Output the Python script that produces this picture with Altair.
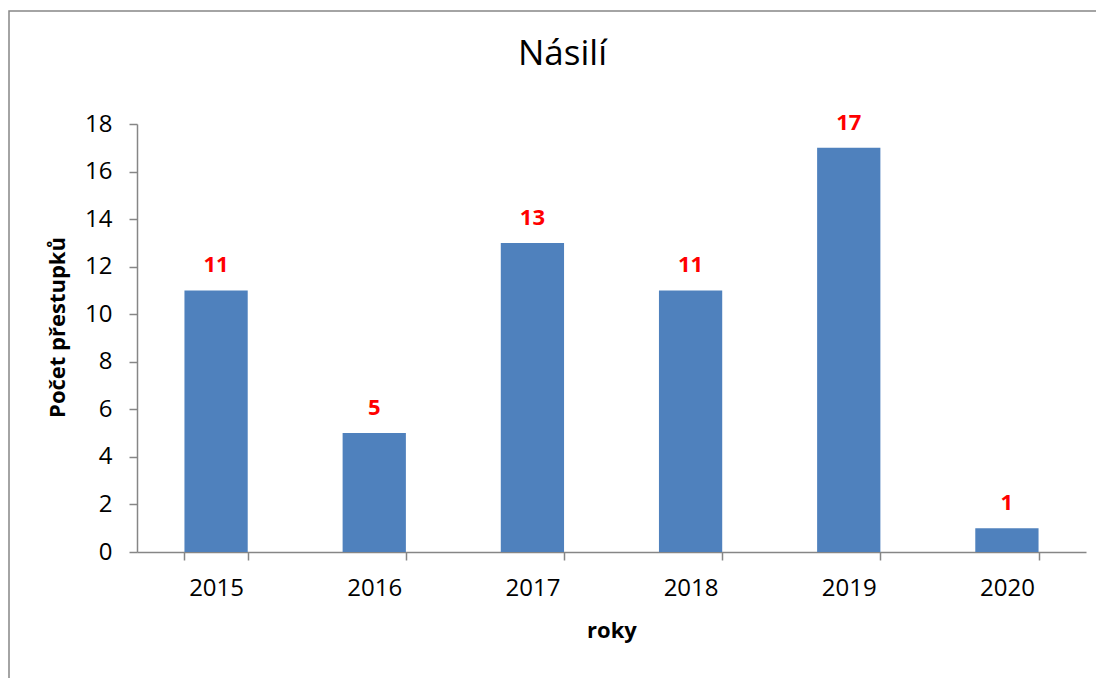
import altair as alt
import pandas as pd

years = ["2015", "2016", "2017", "2018", "2019", "2020"]
counts = [11, 5, 13, 11, 17, 1]

df = pd.DataFrame({"rok": years, "pocet": counts})

FONT = "Open Sans"
GRAY = "#868686"

x_enc = alt.X(
    "rok:N",
    sort=years,
    scale=alt.Scale(paddingInner=0.6, paddingOuter=0.3),
    axis=alt.Axis(
        title="roky",
        labelAngle=0,
        labelFontSize=24,
        labelFont=FONT,
        labelColor="black",
        labelPadding=16,
        tickBand="extent",
        tickSize=8,
        tickColor=GRAY,
        domainColor=GRAY,
        domainWidth=1.5,
        tickWidth=1.5,
        titleFont=FONT,
        titleFontSize=22,
        titleFontWeight="bold",
        titleColor="black",
        titleBaseline="alphabetic",
        titleY=85,
    ),
)
y_enc = alt.Y(
    "pocet:Q",
    scale=alt.Scale(domain=[0, 18], nice=False),
    axis=alt.Axis(
        title="Počet přestupků",
        values=list(range(0, 19, 2)),
        grid=False,
        labelFontSize=24,
        labelFont=FONT,
        labelColor="black",
        labelPadding=17,
        tickSize=8,
        tickColor=GRAY,
        domainColor=GRAY,
        domainWidth=1.5,
        tickWidth=1.5,
        titleFont=FONT,
        titleFontSize=22,
        titleFontWeight="bold",
        titleColor="black",
        titleAngle=-90,
        titleBaseline="middle",
        titleX=-80,
        titleY=203,
    ),
)

bars = alt.Chart(df).mark_bar(color="#4F81BD").encode(x=x_enc, y=y_enc)

labels = alt.Chart(df).mark_text(
    color="#FF0000",
    fontWeight="bold",
    fontSize=22,
    font=FONT,
    baseline="alphabetic",
    dy=-18,
).encode(x=alt.X("rok:N", sort=years), y="pocet:Q", text="pocet:Q")

border = alt.Chart(alt.Data(values=[{"a": 1}])).mark_rect(
    fill=None, stroke=GRAY, strokeWidth=1.5
).encode(
    x=alt.value(-128), x2=alt.value(963), y=alt.value(-113), y2=alt.value(566)
)

chart = (
    alt.layer(border, bars, labels)
    .properties(
        width=949,
        height=428,
        autosize=alt.AutoSizeParams(type="none"),
        padding={"left": 129, "top": 116, "right": 10, "bottom": 126},
        title=alt.TitleParams(
            "Násilí",
            font=FONT,
            fontSize=35,
            fontWeight="normal",
            color="black",
            anchor="middle",
            frame="group",
            baseline="alphabetic",
            offset=-90,
            dx=-49,
        ),
    )
    .configure_view(stroke=None)
)

chart.save("out.html", embed_options={"renderer": "svg", "actions": False})
